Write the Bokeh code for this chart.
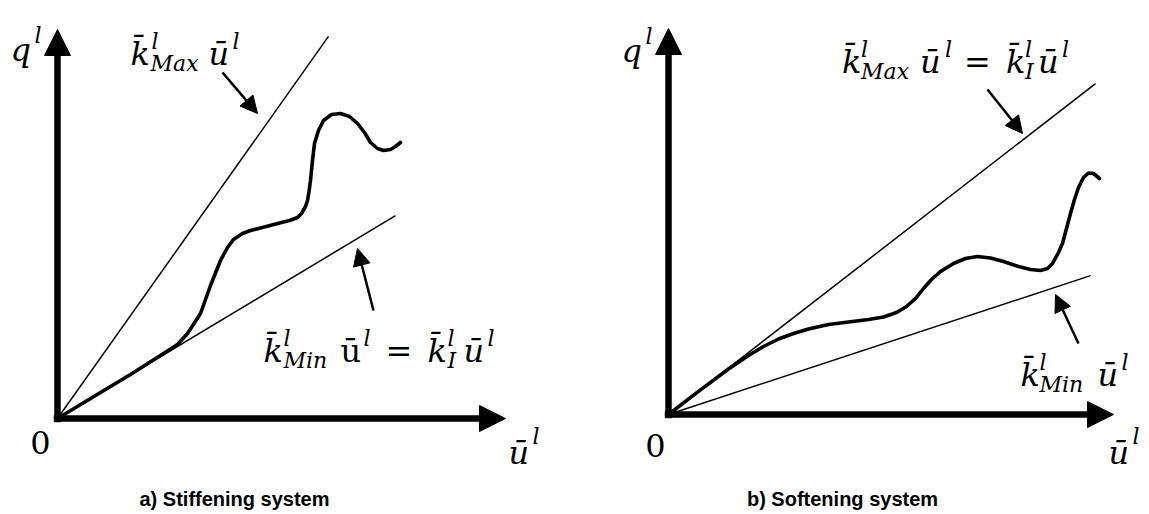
from bokeh.plotting import figure
from bokeh.layouts import row
from bokeh.models import Range1d, Arrow, NormalHead, Label
from bokeh.embed import file_html
from bokeh.resources import INLINE

# ---------------- data ----------------
# a) stiffening system: response curve q(u) and bounding secant stiffnesses
u_stiff = [0.00, 0.43, 0.73, 1.06, 1.20, 1.30, 1.43, 1.53, 1.63, 1.70, 1.76, 1.85,
           1.93, 2.05, 2.20, 2.32, 2.40, 2.44, 2.48, 2.50, 2.515, 2.53, 2.55, 2.57,
           2.61, 2.66, 2.74, 2.83, 2.92, 3.00, 3.07, 3.13, 3.20, 3.26, 3.33, 3.38, 3.43]
q_stiff = [0.00, 0.26, 0.44, 0.65, 0.74, 0.85, 1.05, 1.33, 1.58, 1.71, 1.79, 1.85,
           1.88, 1.91, 1.95, 1.98, 2.01, 2.05, 2.12, 2.18, 2.27, 2.38, 2.58, 2.75,
           2.88, 2.98, 3.04, 3.05, 3.02, 2.95, 2.86, 2.76, 2.70, 2.68, 2.69, 2.72, 2.76]
k_max_a, u_end_max_a = 1.41, 2.71
k_min_a, u_end_min_a = 0.60, 3.38
u_axis_a, q_axis_a = 4.48, 3.89

# b) softening system
u_soft = [0.00, 0.30, 0.60, 0.80, 0.95, 1.10, 1.25, 1.40, 1.60, 1.80, 2.00, 2.15,
          2.28, 2.38, 2.47, 2.55, 2.63, 2.72, 2.85, 2.97, 3.09, 3.22, 3.35, 3.50,
          3.62, 3.72, 3.79, 3.84, 3.90, 3.94, 3.98, 4.02, 4.06, 4.10, 4.15, 4.20,
          4.25, 4.31]
q_soft = [0.00, 0.232, 0.455, 0.59, 0.68, 0.755, 0.81, 0.855, 0.90, 0.925, 0.95, 0.975,
          1.02, 1.08, 1.16, 1.26, 1.35, 1.43, 1.51, 1.56, 1.58, 1.565, 1.53, 1.48,
          1.45, 1.44, 1.46, 1.51, 1.62, 1.71, 1.86, 2.01, 2.15, 2.27, 2.37, 2.415,
          2.41, 2.36]
k_max_b, u_end_max_b = 0.775, 4.27
k_min_b, u_end_min_b = 0.329, 4.22
u_axis_b, q_axis_b = 4.45, 3.86

captions = ["a) Stiffening system", "b) Softening system"]

MATH_FONT = "DejaVu Serif"
M, S = 32, 22   # main and script font sizes (px)
KB = "k\u0304"  # k with bar
UB = "u\u0304"  # u with bar


def formula(p, u, q, pieces):
    """Lay out a small formula as separate text runs (text, dx, dy, size, style)."""
    for txt, dx, dy, size, style in pieces:
        p.add_layout(Label(x=u, y=q, x_offset=dx, y_offset=dy, text=txt,
                           text_font=MATH_FONT, text_font_size=f"{size}px",
                           text_font_style=style, text_baseline="alphabetic",
                           text_align="left", text_color="black"))


def panel(width, xr, yr, u, q, kmax, umax, kmin, umin, uax, qax):
    p = figure(width=width, height=514, x_range=Range1d(*xr), y_range=Range1d(*yr),
               x_axis_type=None, y_axis_type=None, output_backend="svg",
               toolbar_location=None, min_border=0)
    p.grid.visible = False
    p.outline_line_color = None
    p.background_fill_color = "white"
    p.border_fill_color = "white"

    # bounding secant lines
    p.line([0, umax], [0, kmax * umax], line_color="black", line_width=1.5)
    p.line([0, umin], [0, kmin * umin], line_color="black", line_width=1.5)
    # response curve
    p.line(u, q, line_color="black", line_width=3.6, line_join="round", line_cap="round")

    # coordinate axes as thick arrows
    for xs, ys, xe, ye in [(0, 0, uax, 0), (0, 0, 0, qax)]:
        p.add_layout(Arrow(end=NormalHead(size=26, fill_color="black", line_color="black",
                                          line_width=1),
                           x_start=xs, y_start=ys, x_end=xe, y_end=ye,
                           line_color="black", line_width=6.5))
    p.scatter([0], [0], marker="square", size=6.5, color="black")
    return p


def pointer(p, xs, ys, xe, ye):
    p.add_layout(Arrow(end=NormalHead(size=17, fill_color="black", line_color="black",
                                      line_width=1),
                       x_start=xs, y_start=ys, x_end=xe, y_end=ye,
                       line_color="black", line_width=2.5))


def axis_names(p, u_q, q_q, u_0, q_0, u_u, q_u):
    formula(p, u_q, q_q, [("q", 0, 0, M, "italic"), ("l", 24, 14, S, "italic")])
    p.add_layout(Label(x=u_0, y=q_0, text="0", text_font=MATH_FONT,
                       text_font_size=f"{M}px", text_align="center",
                       text_baseline="alphabetic", text_color="black"))
    formula(p, u_u, q_u, [(UB, 0, 0, M, "italic"), ("l", 24, 16, S, "italic")])


def caption(p, u, q, txt):
    p.add_layout(Label(x=u, y=q, text=txt, text_font="Liberation Sans",
                       text_font_size="20px", text_font_style="bold",
                       text_align="center", text_baseline="alphabetic",
                       text_color="black"))


# ---------------- a) stiffening ----------------
pa = panel(574, (-0.57, 5.17), (-0.96, 4.18), u_stiff, q_stiff,
           k_max_a, u_end_max_a, k_min_a, u_end_min_a, u_axis_a, q_axis_a)
pointer(pa, 1.65, 3.46, 2.00, 3.05)
pointer(pa, 3.16, 1.08, 3.00, 1.70)
axis_names(pa, -0.47, 3.69, -0.17, -0.24, 4.51, -0.34)
formula(pa, 0.73, 3.65, [
    (KB, 0, 0, M, "italic"), ("l", 21, 12, S, "italic"), ("Max", 20, -10, S, "italic"),
    (UB, 78, 0, M, "italic"), ("l", 102, 12, S, "italic")])
formula(pa, 2.06, 0.68, [
    (KB, 0, 0, M, "italic"), ("l", 20, 12, S, "italic"), ("Min", 20, -10, S, "italic"),
    (UB, 77, 0, M, "normal"), ("l", 100, 12, S, "italic"), ("=", 122, 0, M, "normal"),
    (KB, 164, 0, M, "italic"), ("l", 184, 12, S, "italic"), ("I", 184, -10, S, "italic"),
    (UB, 200, 0, M, "italic"), ("l", 224, 12, S, "italic")])
caption(pa, 1.77, -0.80, captions[0])

# ---------------- b) softening ----------------
pb = panel(575, (-0.94, 4.81), (-1.00, 4.14), u_soft, q_soft,
           k_max_b, u_end_max_b, k_min_b, u_end_min_b, u_axis_b, q_axis_b)
pointer(pb, 3.19, 3.25, 3.54, 2.81)
pointer(pb, 4.10, 0.71, 3.87, 1.20)
axis_names(pb, -0.47, 3.64, -0.13, -0.31, 4.40, -0.38)
formula(pb, 1.735, 3.53, [
    (KB, 0, 0, M, "italic"), ("l", 19, 12, S, "italic"), ("Max", 19, -10, S, "italic"),
    (UB, 78, 0, M, "italic"), ("l", 103, 12, S, "italic"), ("=", 122, 0, M, "normal"),
    (KB, 164, 0, M, "italic"), ("l", 183, 12, S, "italic"), ("I", 183, -10, S, "italic"),
    (UB, 196, 0, M, "italic"), ("l", 220, 12, S, "italic")])
formula(pb, 3.52, 0.40, [
    (KB, 0, 0, M, "italic"), ("l", 19, 12, S, "italic"), ("Min", 19, -10, S, "italic"),
    (UB, 77, 0, M, "italic"), ("l", 101, 12, S, "italic")])
caption(pb, 1.74, -0.84, captions[1])

layout = row(pa, pb)
open("out.html", "w").write(file_html(layout, INLINE))
